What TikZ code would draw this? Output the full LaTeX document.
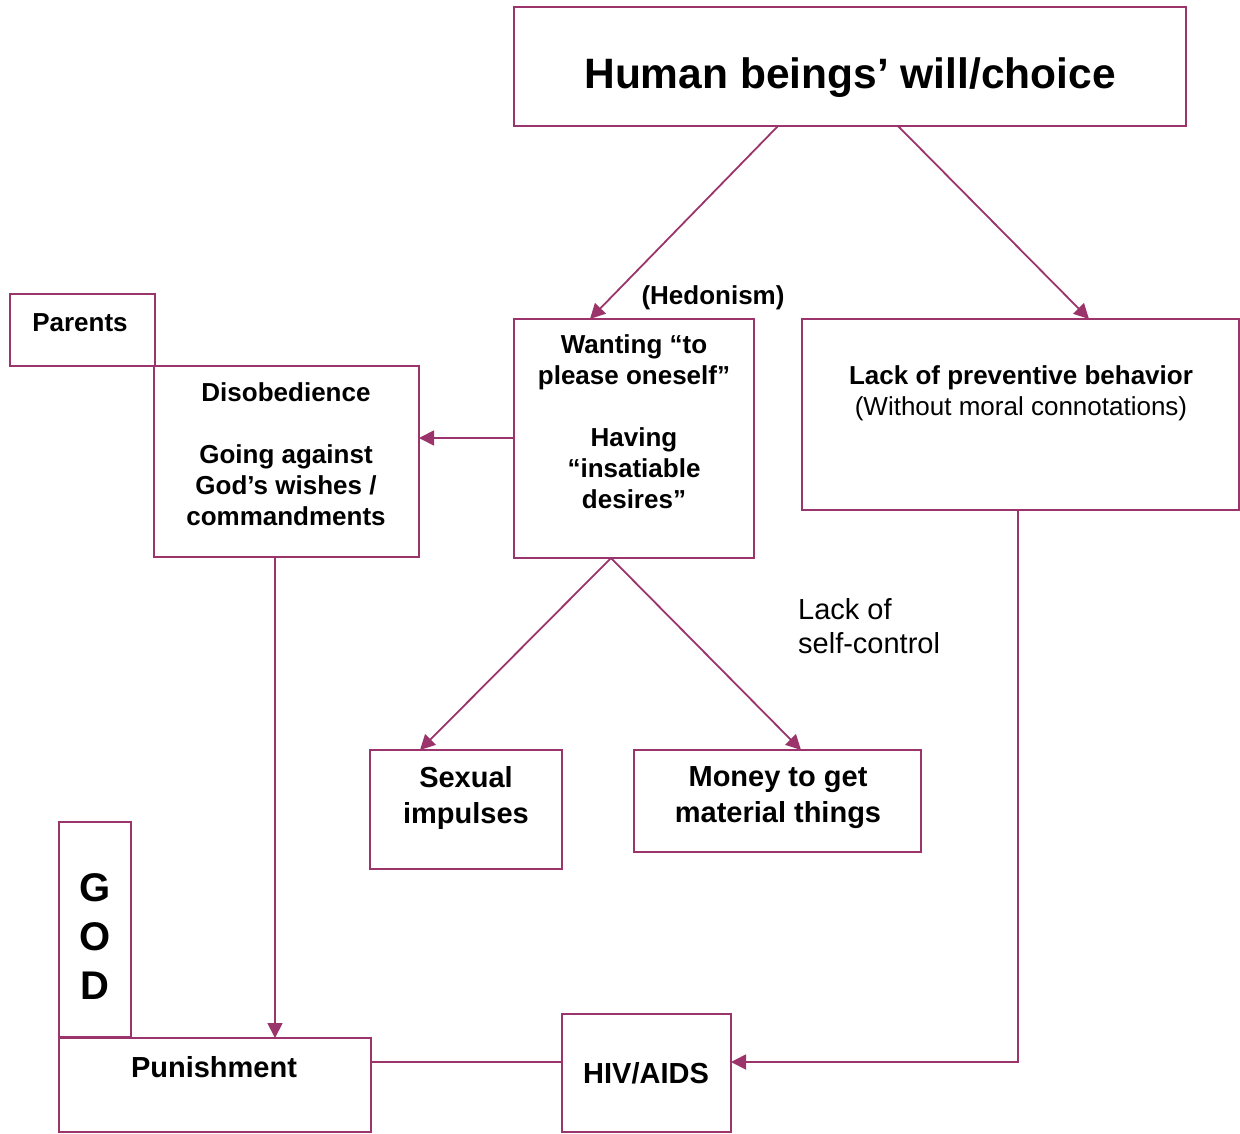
\documentclass[tikz,border=0pt]{standalone}
\usepackage{fontspec}
\setmainfont{Liberation Sans}
\usetikzlibrary{arrows.meta,calc}
\definecolor{plum}{RGB}{155,52,106}
\begin{document}
\begin{tikzpicture}[x=1pt,y=-1pt,
  box/.style={draw=plum,line width=1.8pt,inner sep=0pt,outer sep=0pt,rectangle},
  conn/.style={draw=plum,line width=1.8pt},
  arr/.style={conn,-{Triangle[length=15pt,width=15pt]}},
  bt/.style={inner sep=0pt,font=\bfseries\fontsize{26}{31}\selectfont,align=center},
  bb/.style={inner sep=0pt,font=\bfseries\fontsize{29}{36}\selectfont,align=center},
  nt/.style={inner sep=0pt,font=\fontsize{29}{34}\selectfont,align=left}]
\useasboundingbox (0,0) rectangle (1240,1133);
\clip (0,0) rectangle (1240,1133);
% boxes
\node[box,minimum width=672pt,minimum height=119pt] (hum) at (850,66.5) {};
\node[box,minimum width=145pt,minimum height=72pt] (par) at (82.5,330) {};
\node[box,minimum width=265pt,minimum height=191pt] (dis) at (286.5,461.5) {};
\node[box,minimum width=240pt,minimum height=239pt] (wan) at (634,438.5) {};
\node[box,minimum width=437pt,minimum height=191pt] (lack) at (1020.5,414.5) {};
\node[box,minimum width=192pt,minimum height=119pt] (sex) at (466,809.5) {};
\node[box,minimum width=287pt,minimum height=102pt] (mon) at (777.5,801) {};
\node[box,minimum width=72pt,minimum height=215pt] (god) at (95,929.5) {};
\node[box,minimum width=312pt,minimum height=94pt] (pun) at (215,1085) {};
\node[box,minimum width=169pt,minimum height=118pt] (hiv) at (646.5,1073) {};
% texts
\node[inner sep=0pt,anchor=base,font=\bfseries\fontsize{42.5}{50}\selectfont] (humt) at (850,88.5) {Human beings’ will/choice};
\node[bt,anchor=base] (part) at (80,331) {Parents};
\node[bt,anchor=base] (hed) at (713,304) {(Hedonism)};
\node[bt,anchor=north] (want) at (634,334.6) {Wanting “to\\please oneself”\\[31pt]Having\\“insatiable\\desires”};
\node[bt,anchor=north] (dist) at (286,382.6) {Disobedience\\[31pt]Going against\\God’s wishes /\\commandments};
\node[bt,anchor=north] (lackt) at (1021,365.6) {Lack of preventive behavior\\\normalfont\fontsize{26}{31}\selectfont(Without moral connotations)};
\node[bb,anchor=north] (sext) at (466,766.6) {Sexual\\impulses};
\node[bb,anchor=north] (mont) at (778,766.6) {Money to get\\material things};
\node[nt,anchor=north west] (self) at (798,598.6) {Lack of\\self-control};
\node[inner sep=0pt,anchor=north,align=center,font=\bfseries\fontsize{40}{49}\selectfont] (godt) at (95,873.6) {G\\O\\D};
\node[bb,anchor=base] (punt) at (214,1077) {Punishment};
\node[bb,anchor=base] (hivt) at (646,1083) {HIV/AIDS};
% connectors
\draw[arr] ($(hum.south west)+(264,0)$) -- ($(wan.north west)+(76,0)$);
\draw[arr] ($(hum.south west)+(384,0)$) -- ($(lack.north west)+(287,0)$);
\draw[arr] (wan.west |- 0,438) -- (dis.east |- 0,438);
\draw[arr] ($(wan.south west)+(97,0)$) -- ($(sex.north west)+(50,0)$);
\draw[arr] ($(wan.south west)+(97,0)$) -- ($(mon.north west)+(167,0)$);
\draw[arr] ($(dis.south west)+(121,0)$) -- ($(pun.north west)+(216,0)$);
\draw[arr] ($(lack.south west)+(216,0)$) |- ($(hiv.north east)+(0,48)$);
\draw[conn] ($(pun.north east)+(0,24)$) -- ($(hiv.north west)+(0,48)$);
\end{tikzpicture}
\end{document}
